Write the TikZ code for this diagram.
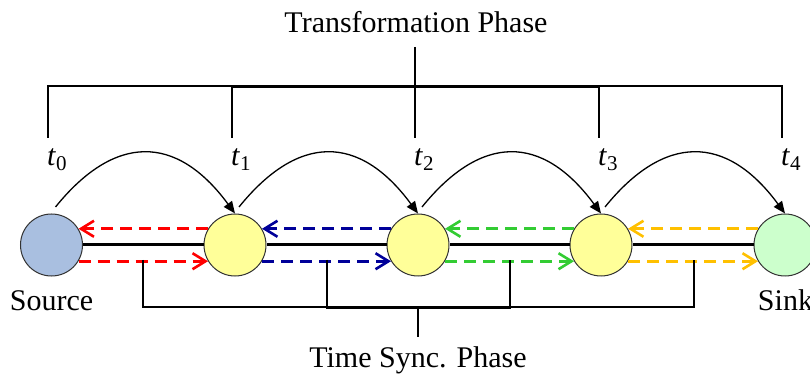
\documentclass[tikz,border=0pt]{standalone}
\usepackage{fontspec}
\setmainfont{Liberation Serif}
\usetikzlibrary{arrows.meta}
\definecolor{srcblue}{HTML}{A9BFE0}
\definecolor{hopyellow}{HTML}{FFFF99}
\definecolor{sinkgreen}{HTML}{CCFFCC}
\definecolor{msgred}{HTML}{FF0000}
\definecolor{msgnavy}{HTML}{000099}
\definecolor{msggreen}{HTML}{33CC33}
\definecolor{msggold}{HTML}{FFC000}
\begin{document}
\begin{tikzpicture}[x=0.5pt,y=-0.5pt,
  every node/.style={font=\fontsize{15}{18}\selectfont},
  station/.style={circle,draw=black!80,line width=0.5pt,minimum size=31pt,inner sep=0pt},
  thinline/.style={line width=0.65pt},
  mainline/.style={line width=1.5pt},
  msg/.style={line width=1.3pt,dash pattern=on 6pt off 3.5pt,-{Straight Barb[length=6.5pt,width=8pt]}},
  hop/.style={line width=0.65pt,-{Triangle[length=6pt,width=5pt]}},
  tlbl/.style={anchor=base west,font=\fontsize{15}{17}\selectfont}]
\useasboundingbox (0,0) rectangle (810,374);
% stations
\node[station,fill=srcblue] (s) at (51.5,245) {};
\node[station,fill=hopyellow] (n1) at (235,245) {};
\node[station,fill=hopyellow] (n2) at (418,245) {};
\node[station,fill=hopyellow] (n3) at (601,245) {};
\node[station,fill=sinkgreen] (k) at (785,245) {};
% main link
\draw[mainline] (s) -- (n1) (n1) -- (n2) (n2) -- (n3) (n3) -- (k);
% messages
\draw[msg,msgred] (n1.149) -- (s.31);
\draw[msg,msgred] (s.-31) -- (n1.-149);
\draw[msg,msgnavy] (n2.149) -- (n1.31);
\draw[msg,msgnavy] (n1.-31) -- (n2.-149);
\draw[msg,msggreen] (n3.149) -- (n2.31);
\draw[msg,msggreen] (n2.-31) -- (n3.-149);
\draw[msg,msggold] (k.149) -- (n3.31);
\draw[msg,msggold] (n3.-31) -- (k.-149);
% hops
\draw[hop] ([shift={(4,-38)}]s.center) .. controls +(59,-73) and +(-59,-80) .. (n1.north);
\draw[hop] ([shift={(4,-38)}]n1.center) .. controls +(59,-73) and +(-59,-80) .. (n2.north);
\draw[hop] ([shift={(4,-38)}]n2.center) .. controls +(59,-73) and +(-59,-80) .. (n3.north);
\draw[hop] ([shift={(4,-38)}]n3.center) .. controls +(59,-73) and +(-59,-80) .. (k.north);
% transformation bracket
\draw[thinline] (48,138) |- (782,86) -- (782,138);
\draw[thinline] (232,138) |- (599,87) -- (599,138);
\draw[thinline] (415,47) -- (415,138);
% time sync bracket
\draw[thinline] (143,260) |- (694,307) -- (694,260);
\draw[thinline] (327,260) |- (510,308) -- (510,260);
\draw[thinline] (418,307) -- (418,337);
% labels
\node[anchor=base] (ttl) at (416,33) {Transformation Phase};
\node[anchor=base] (sync) at (418,367) {Time Sync. Phase};
\node[anchor=base] (srcl) at (51.5,311) {Source};
\node[anchor=base] (snkl) at (785.5,311) {Sink};
\node[tlbl] (t0) at (40,166) {\textit{t}\textsubscript{0}};
\node[tlbl] (t1) at (224,166) {\textit{t}\textsubscript{1}};
\node[tlbl] (t2) at (407,166) {\textit{t}\textsubscript{2}};
\node[tlbl] (t3) at (591,166) {\textit{t}\textsubscript{3}};
\node[tlbl] (t4) at (774,166) {\textit{t}\textsubscript{4}};
\end{tikzpicture}
\end{document}
